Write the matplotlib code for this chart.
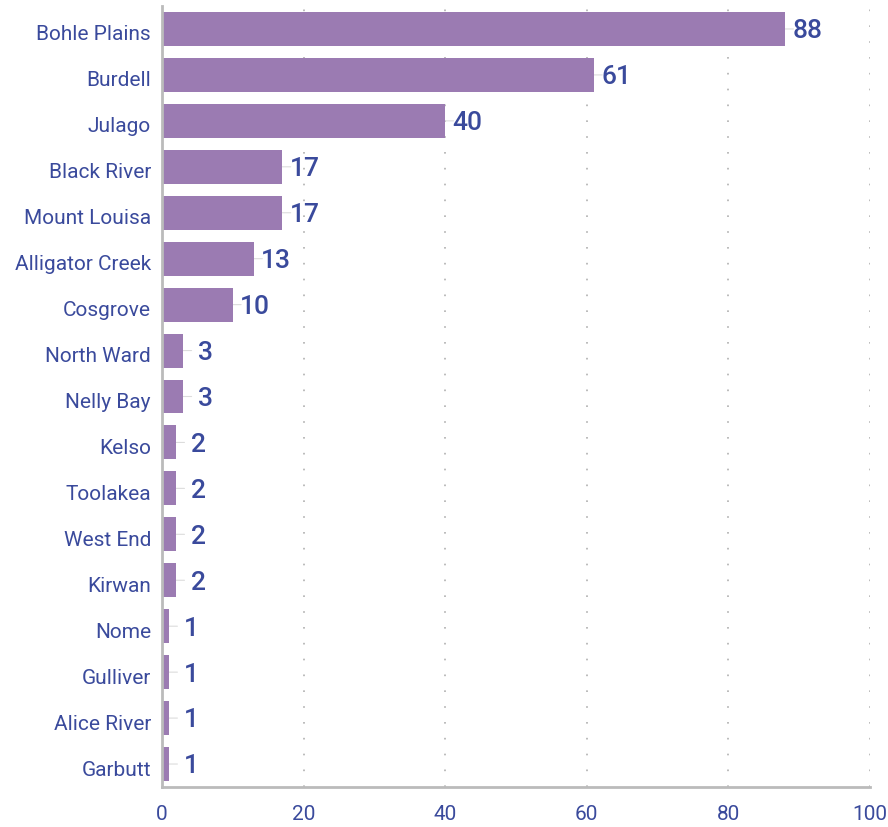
import matplotlib
matplotlib.use("Agg")
import matplotlib.pyplot as plt
import matplotlib.transforms as mtransforms

categories = ["Bohle Plains", "Burdell", "Julago", "Black River", "Mount Louisa",
              "Alligator Creek", "Cosgrove", "North Ward", "Nelly Bay", "Kelso",
              "Toolakea", "West End", "Kirwan", "Nome", "Gulliver", "Alice River", "Garbutt"]
values = [88, 61, 40, 17, 17, 13, 10, 3, 3, 2, 2, 2, 2, 1, 1, 1, 1]
x_ticks = [0, 20, 40, 60, 80, 100]

bar_color = "#9b7bb2"
text_color = "#3a4a9c"

plt.rcParams['font.family'] = ['Roboto', 'DejaVu Sans']

fig = plt.figure(figsize=(8.88, 8.28), dpi=100)
ax = fig.add_axes([162/888, 1-788/828, (870-162)/888, (788-7)/828])

ypos = list(range(len(categories)))
ax.barh(ypos, values, height=0.74, color=bar_color, zorder=2)

for y, v in zip(ypos, values):
    ax.annotate("", xy=(v, y), xytext=(6, 0), textcoords="offset points",
                arrowprops=dict(arrowstyle="-", color="#dcdcdc", lw=0.8,
                                shrinkA=0, shrinkB=0), zorder=1)
    ax.annotate(str(v), xy=(v, y), xytext=(16, -1), textcoords="offset points",
                ha="center", va="center", fontsize=19, fontweight="medium",
                color=text_color, zorder=3)

ax.set_ylim(len(categories) - 0.5, -0.5)
ax.set_xlim(0, 100)
ax.set_yticks(ypos)
ax.set_yticklabels(categories, fontsize=15, color=text_color)
ax.set_xticks(x_ticks)
ax.set_xticklabels([str(t) for t in x_ticks], fontsize=15, color=text_color)
ax.tick_params(axis="both", length=0)
ax.tick_params(axis="y", pad=8)
ax.tick_params(axis="x", pad=12)

offset = mtransforms.ScaledTranslation(0, -3/100, fig.dpi_scale_trans)
for lbl in ax.get_yticklabels():
    lbl.set_transform(lbl.get_transform() + offset)

ax.xaxis.grid(True, linestyle=(0, (1, 8.5)), color="#b0b0b0", lw=1.2, zorder=0)
ax.set_axisbelow(True)

for s in ["top", "right"]:
    ax.spines[s].set_visible(False)
for s in ["left", "bottom"]:
    ax.spines[s].set_color("#bbbbbb")
    ax.spines[s].set_linewidth(2)

fig.savefig("out.png", dpi=100)
